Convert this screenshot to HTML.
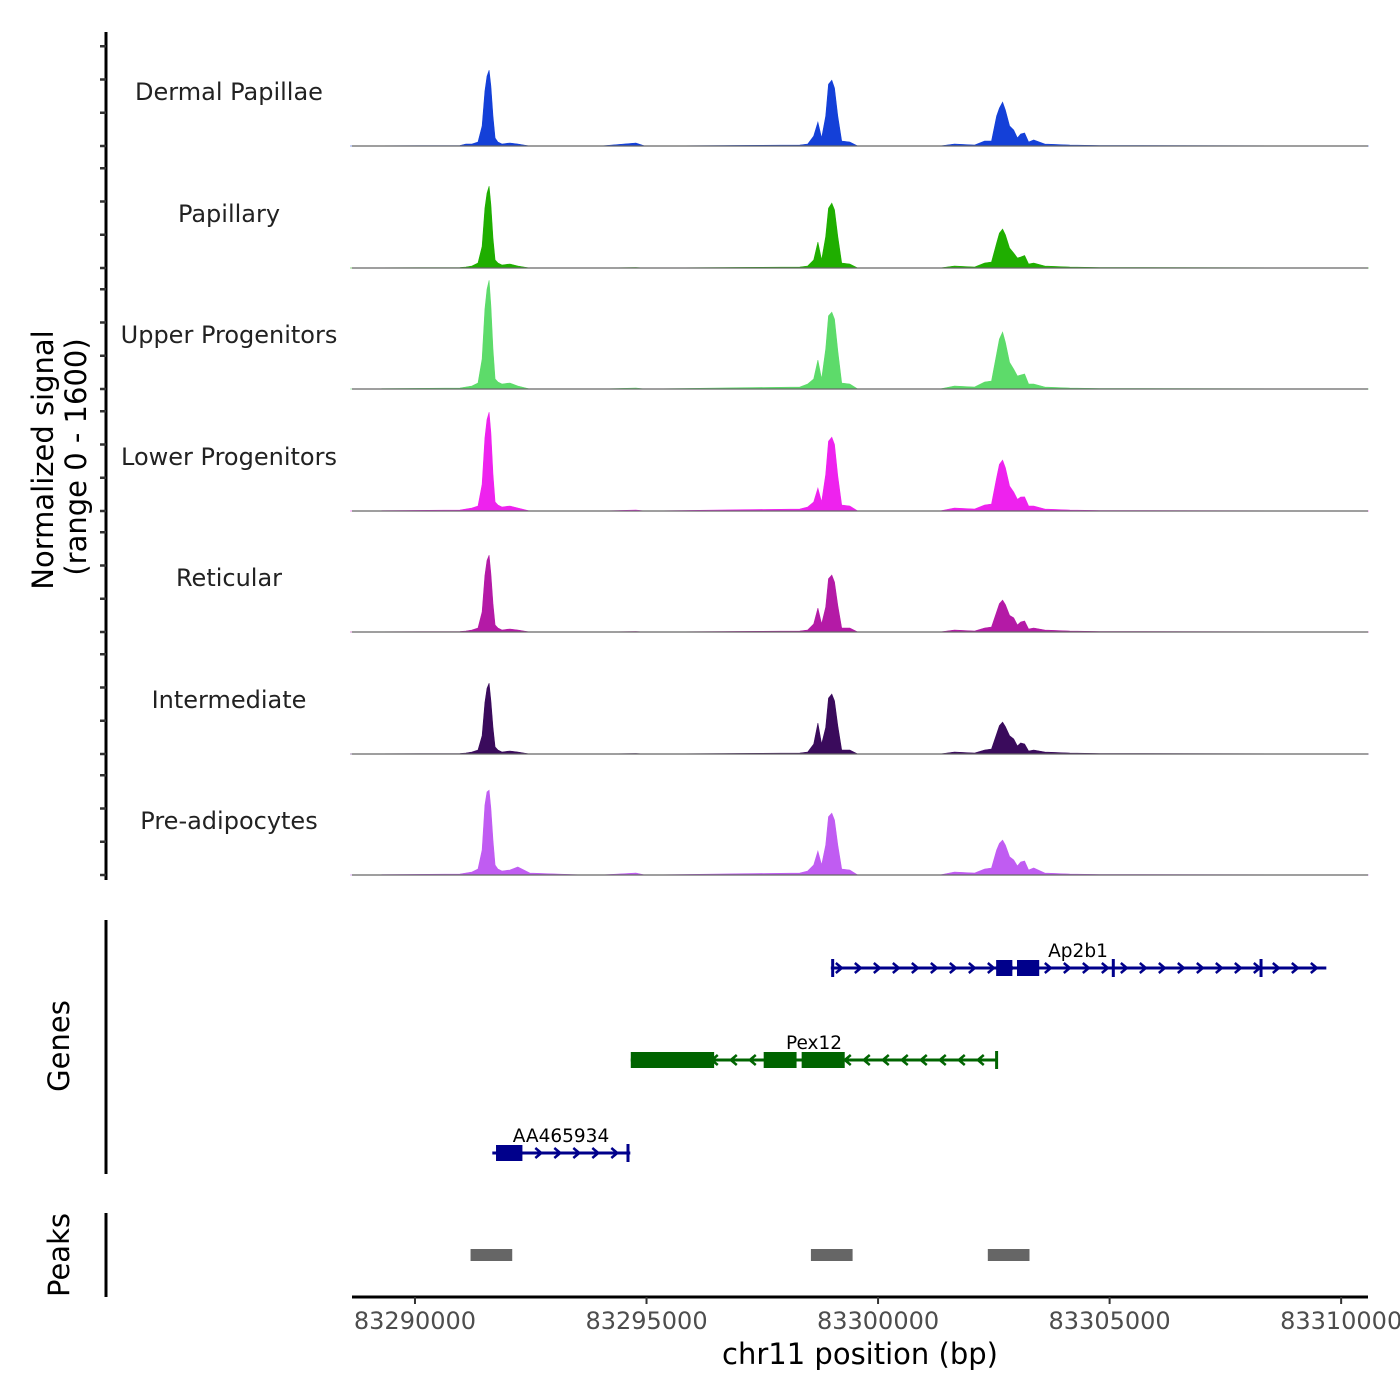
<!DOCTYPE html>
<html><head><meta charset="utf-8">
<style>
html,body{margin:0;padding:0;background:#fff;}
svg{display:block;font-family:"DejaVu Sans","Liberation Sans",sans-serif;}
</style></head>
<body>
<svg id="chart" width="1400" height="1400" viewBox="0 0 1400 1400" xmlns="http://www.w3.org/2000/svg">
  <g id="tracks"></g>
  <g id="yaxis">
    <line x1="106" y1="32" x2="106" y2="880" stroke="#000" stroke-width="3"/>
  </g>
  <text transform="translate(53,460) rotate(-90)" text-anchor="middle" font-size="29" fill="#000">Normalized signal</text>
  <text transform="translate(86,457) rotate(-90)" text-anchor="middle" font-size="29" fill="#000">(range 0 - 1600)</text>
  <g>
    <line x1="106" y1="920" x2="106" y2="1174" stroke="#000" stroke-width="3"/>
    <text transform="translate(69,1046) rotate(-90)" text-anchor="middle" font-size="29">Genes</text>
    <g id="genes"></g>
  </g>
  <g>
    <line x1="106" y1="1213" x2="106" y2="1297" stroke="#000" stroke-width="3"/>
    <text transform="translate(69,1255) rotate(-90)" text-anchor="middle" font-size="29">Peaks</text>
    <g id="peaks"></g>
  </g>
  <g id="xaxis">
    <line x1="352" y1="1297" x2="1368" y2="1297" stroke="#000" stroke-width="3"/>
  </g>
  <text x="860" y="1364" text-anchor="middle" font-size="29" fill="#000">chr11 position (bp)</text>
</svg>
<script>
const positions = [83288600,83290970,83291100,83291230,83291360,83291450,83291510,83291555,83291600,83291640,83291685,83291730,83291790,83291880,83292050,83292220,83292480,83293670,83294000,83294770,83294965,83298310,83298480,83298610,83298700,83298780,83298870,83298930,83299000,83299060,83299130,83299215,83299390,83299560,83301330,83301650,83302085,83302300,83302450,83302560,83302620,83302690,83302750,83302840,83302930,83303010,83303080,83303165,83303250,83303360,83303600,83304140,83304780,83310600];
const trackNames = ["Dermal Papillae","Papillary","Upper Progenitors","Lower Progenitors","Reticular","Intermediate","Pre-adipocytes"];
const trackColors = ["#1440d8","#1fae00","#5ddb6a","#ee22ee","#b41aa6","#3a0b5c","#c05cf2"];
const dermalPapillae = [0,6,24,24,48,240,660,840,912,720,360,96,48,24,36,24,0,0,0,36,0,12,24,120,288,96,360,744,792,696,360,60,48,0,0,24,12,60,60,360,456,528,432,240,192,96,144,156,48,72,24,12,6,0];
const papillary = [0,6,12,24,60,260,720,900,984,760,360,96,60,36,48,24,0,0,0,6,0,12,24,96,312,96,380,720,780,700,380,60,48,0,0,24,12,60,72,300,420,468,400,240,180,120,132,150,48,60,24,12,6,0];
const upperProgenitors = [0,12,24,36,72,360,960,1200,1308,1000,480,120,84,60,72,36,0,0,0,12,0,24,60,120,348,120,480,880,924,840,460,72,60,0,0,36,24,84,96,420,600,684,560,320,240,156,168,180,60,60,24,12,6,0];
const lowerProgenitors = [0,12,24,36,60,320,880,1100,1188,940,440,108,72,48,60,36,0,0,0,12,0,24,48,108,276,108,440,840,888,800,420,72,60,0,0,36,24,72,84,400,560,612,520,300,228,140,168,170,60,60,24,12,6,0];
const reticular = [0,6,12,24,48,240,680,860,924,700,340,84,48,24,36,24,0,0,0,6,0,12,24,96,288,96,300,640,684,600,320,48,48,0,0,24,12,48,60,240,340,384,330,200,170,84,120,132,36,48,24,12,6,0];
const intermediate = [0,6,12,24,48,220,620,790,852,640,320,84,48,24,36,24,0,0,0,6,0,12,24,120,372,120,320,672,720,640,340,48,48,0,0,24,12,48,60,240,340,384,330,220,180,96,132,120,36,48,24,12,6,0];
const preAdipocytes = [0,12,24,36,72,300,840,1000,1020,800,420,120,72,48,60,96,24,0,0,24,0,24,48,120,288,120,360,700,744,660,360,72,60,0,0,36,24,72,84,300,380,420,360,220,180,108,156,168,60,84,24,12,6,0];
const trackValues = [dermalPapillae,papillary,upperProgenitors,lowerProgenitors,reticular,intermediate,preAdipocytes];
const yTickValues = [0,400,800,1200];
const xTickValues = [83290000,83295000,83300000,83305000,83310000];
const peakStarts = [83291200,83298550,83302370];
const peakEnds = [83292100,83299450,83303270];

const NS = "http://www.w3.org/2000/svg";
const X0 = 352, X1 = 1368, BP0 = 83288640, BP1 = 83310580;
function xs(bp){ return X0 + (bp - BP0) / (BP1 - BP0) * (X1 - X0); }
const baselines = [146,268,389,511,632,754,875];
function ys(v, base){ return base - v / 1600 * 133; }
function mk(tag, attrs, parent){ const e = document.createElementNS(NS, tag); for (const k in attrs) e.setAttribute(k, attrs[k]); parent.appendChild(e); return e; }

const tracks = document.getElementById('tracks');
const yaxis = document.getElementById('yaxis');
trackValues.forEach((vals, t) => {
  const base = baselines[t];
  const g = mk('g', {}, tracks);
  
  
  let d = 'M' + xs(positions[0]).toFixed(1) + ',' + base;
  positions.forEach((p, i) => { d += 'L' + xs(p).toFixed(1) + ',' + ys(vals[i], base).toFixed(1); });
  d += 'L' + xs(positions[positions.length - 1]).toFixed(1) + ',' + base + 'Z';
  const area = mk('path', {d: d, fill: trackColors[t], stroke: trackColors[t], 'stroke-width': 0.6}, g);
  
  
  const bl = mk('line', {x1: X0, x2: X1, y1: base, y2: base, stroke: '#666', 'stroke-width': 1.2}, g);
  
  
  const lab = mk('text', {x: 229, y: base - 46, 'text-anchor': 'middle', 'font-size': 24, fill: '#222'}, g);
  lab.textContent = trackNames[t];
  
  
  yTickValues.forEach(v => {
    const y = ys(v, base);
    const tk = mk('line', {x1: 100, x2: 106, y1: y, y2: y, stroke: '#333', 'stroke-width': 2.5}, yaxis);
    
    
  });
});

const xaxis = document.getElementById('xaxis');
xTickValues.forEach(v => {
  const x = xs(v);
  const tk = mk('line', {x1: x, x2: x, y1: 1297, y2: 1304, stroke: '#333', 'stroke-width': 2}, xaxis);
  
  
  const tl = mk('text', {x: x, y: 1329, 'text-anchor': 'middle', 'font-size': 24, fill: '#4d4d4d'}, xaxis);
  tl.textContent = String(v);
  
  
});

const peaksG = document.getElementById('peaks');
peakStarts.forEach((s, i) => {
  const r = mk('rect', {x: xs(s), y: 1249, width: xs(peakEnds[i]) - xs(s), height: 12, fill: '#666'}, peaksG);
  
  
});

const genesG = document.getElementById('genes');
function gene(name, start, end, y, color, dir, exons, ticks, labelX){
  const g = mk('g', {}, genesG);
  
  
  const x1 = xs(start), x2 = xs(end);
  mk('line', {x1: x1, x2: x2, y1: y, y2: y, stroke: color, 'stroke-width': 3}, g);
  for (let x = x1 + 8; x < x2 - 4; x += 19) {
    const d = dir > 0 ? `M${x-3},${y-5}L${x+3},${y}L${x-3},${y+5}` : `M${x+3},${y-5}L${x-3},${y}L${x+3},${y+5}`;
    mk('path', {d: d, fill: 'none', stroke: color, 'stroke-width': 2.5}, g);
  }
  exons.forEach(e => {
    const ex = mk('rect', {x: xs(e[0]), y: y - 8, width: xs(e[1]) - xs(e[0]), height: 16, fill: color}, g);
    
    
  });
  ticks.forEach(b => { mk('rect', {x: xs(b) - 1.5, y: y - 9, width: 3, height: 18, fill: color}, g); });
  const t = mk('text', {x: labelX, y: y - 11, 'text-anchor': 'middle', 'font-size': 18.5, fill: '#000'}, g);
  t.textContent = name;
  
  
}
gene('Ap2b1', 83298980, 83309680, 968, '#00008b', 1, [[83302550,83302900],[83303000,83303480]], [83299020,83305080,83308270], 1078);
gene('Pex12', 83294660, 83302580, 1060, '#006400', -1, [[83294660,83296460],[83297530,83298240],[83298350,83299280]], [83302560], 814);
gene('AA465934', 83291670, 83294650, 1153, '#00008b', 1, [[83291750,83292320]], [83294600], 561);
</script>
</body></html>
